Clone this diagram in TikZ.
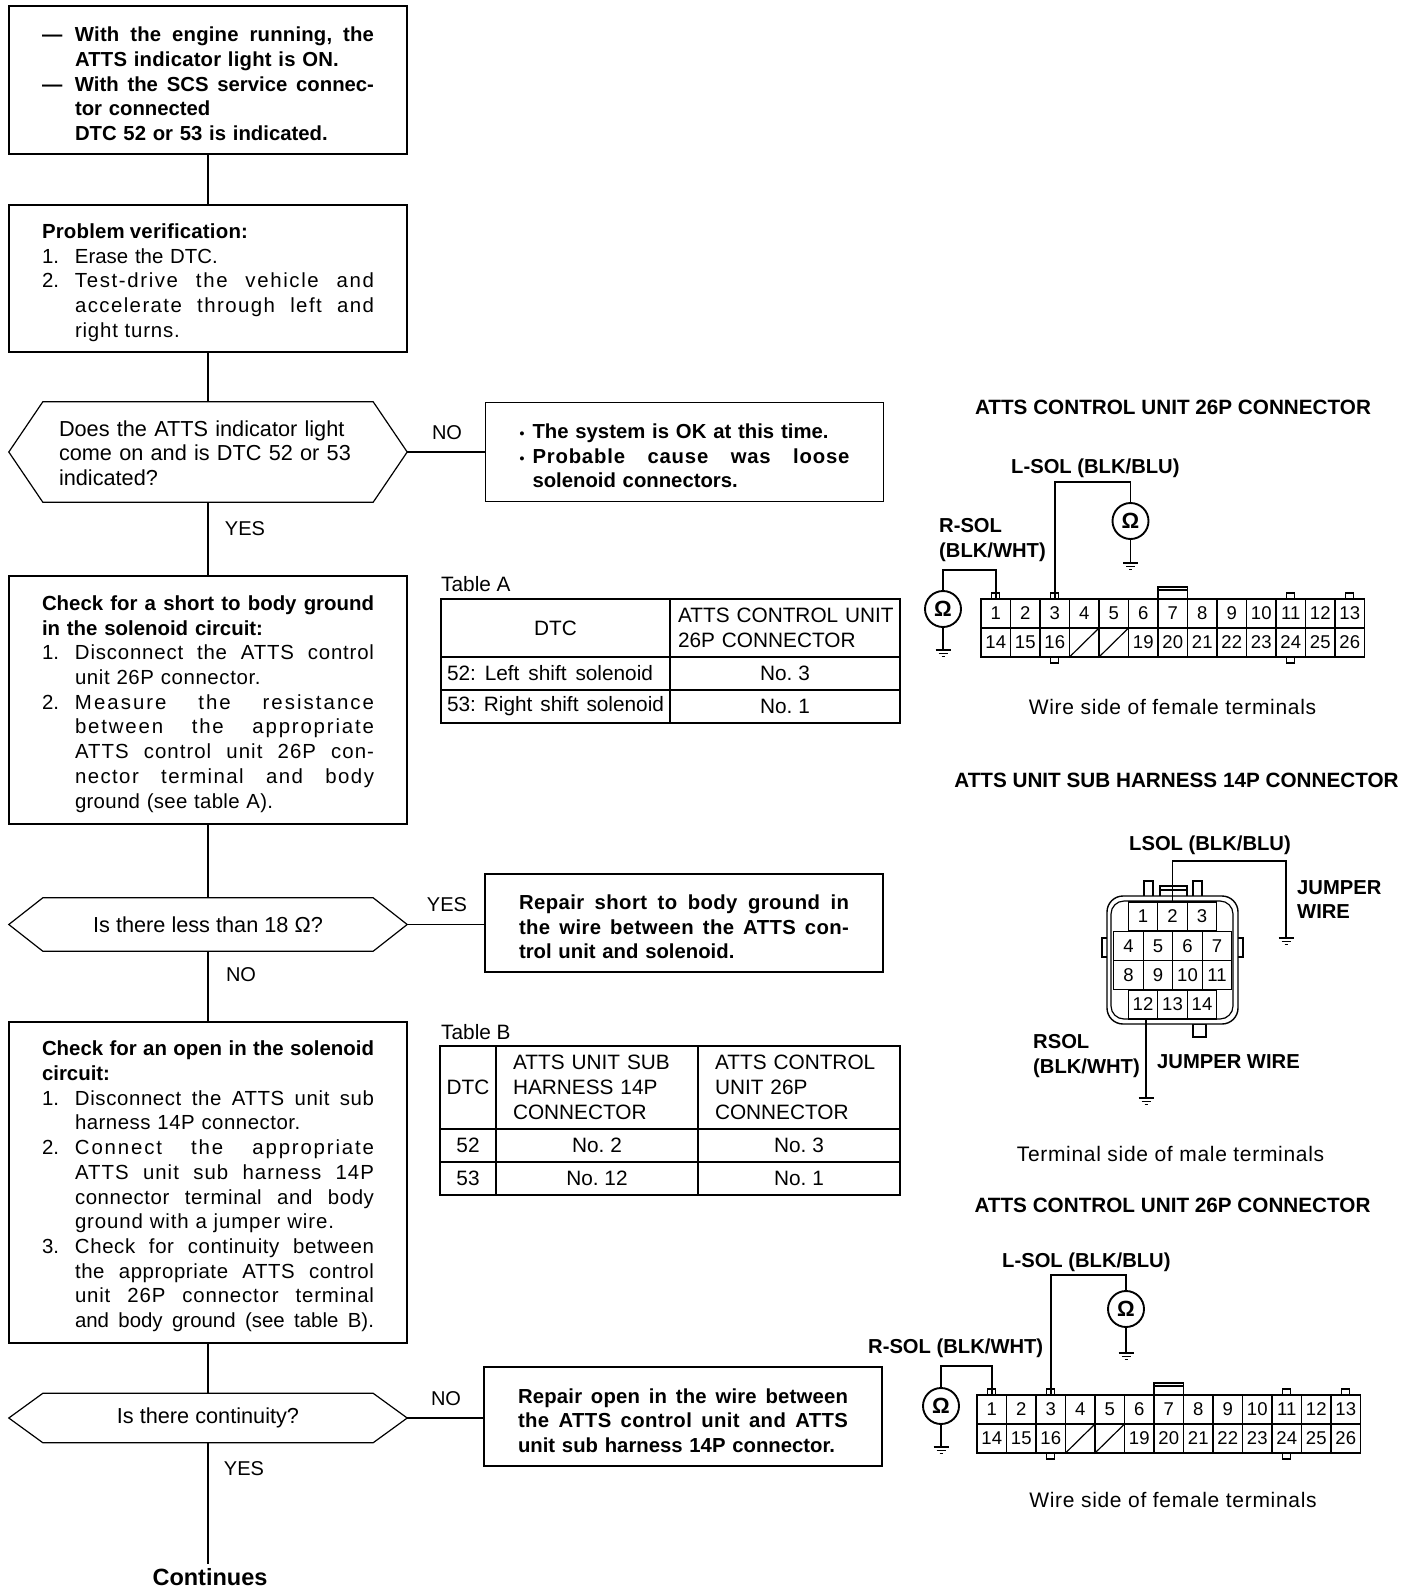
\documentclass[tikz,border=0pt]{standalone}
\usepackage{fontspec}
\setmainfont{Liberation Sans}
\usetikzlibrary{positioning}

% stretched line: [letter space], width, text
\newcommand{\strline}[3][0]{\makebox[#2][s]{\addfontfeature{LetterSpace=#1}\spaceskip=0pt\xspaceskip=0pt #3}}
\newcommand{\lsp}[2]{{\addfontfeature{LetterSpace=#1}#2}}
\newcommand{\numl}[3][0]{\makebox[33pt][l]{#2}\lsp{#1}{#3}}
\newcommand{\numls}[3][0]{\makebox[33pt][l]{#2}\strline[#1]{299pt}{#3}}
\newcommand{\hng}[2][0]{\hspace*{33pt}\lsp{#1}{#2}}
\newcommand{\hngs}[2][0]{\hspace*{33pt}\strline[#1]{299pt}{#2}}
\newcommand{\hexoutline}[1]{\draw[flowline] (#1.west) -- ([xshift=34pt]#1.north west) -- ([xshift=-34pt]#1.north east) -- (#1.east) -- ([xshift=-34pt]#1.south east) -- ([xshift=34pt]#1.south west) -- cycle;}

% 26P connector: prefix, left x, top y
\newcommand{\conntwentysix}[3]{%
  \foreach \n in {1,3,11,13} {
    \draw[pinline, fill=white] ({#2+(\n-0.5)*29.5-4},#3) rectangle ({#2+(\n-0.5)*29.5+4},{#3-6});
  }
  \foreach \n in {3,11} {
    \draw[pinline, fill=white] ({#2+(\n-0.5)*29.5-4},{#3+58}) rectangle ({#2+(\n-0.5)*29.5+4},{#3+64});
  }
  \draw[pinline] ({#2+6*29.5},#3) rectangle ({#2+7*29.5},{#3-12});
  \draw[pinline] ({#2+6*29.5},{#3-9}) -- ({#2+7*29.5},{#3-9});
  \foreach \n in {1,...,13} {
    \node[pincell] (#1\n) at ({#2+(\n-0.5)*29.5},{#3+14.5}) {\n};
  }
  \foreach \n/\lab in {14/14,15/15,16/16,17/,18/,19/19,20/20,21/21,22/22,23/23,24/24,25/25,26/26} {
    \node[pincell] (#1\n) at ({#2+(\n-13.5)*29.5},{#3+43.5}) {\lab};
  }
  \draw[pinline] (#117.south west) -- (#117.north east);
  \draw[pinline] (#118.south west) -- (#118.north east);
  \draw[line width=1.7pt] (#2,#3) rectangle ({#2+13*29.5},{#3+58});
}

\tikzset{
  textdown/.style={execute at begin node={\rule{0pt}{#1}}},
  flowbox/.style={draw, line width=1.3pt, minimum width=398pt, text width=332pt, inner xsep=0pt, inner ysep=0pt, align=left, textdown=22.7pt, font=\fontsize{20.4}{24.7}\selectfont},
  boldbox/.style={flowbox, font=\fontsize{20.3}{24.7}\selectfont\bfseries},
  notebox/.style={boldbox, text width=330pt},
  decision/.style={minimum width=398pt, inner sep=0pt, align=left, font=\fontsize{21.7}{24.7}\selectfont},
  flowline/.style={line width=1.2pt},
  answer/.style={font=\fontsize{20}{24}\selectfont},
  tcell/.style={draw, line width=1.3pt, inner sep=0pt, font=\fontsize{20.8}{24.7}\selectfont},
  tleft/.style={tcell, align=left},
  tlabel/.style={anchor=west, inner sep=0pt, font=\fontsize{20.8}{24}\selectfont},
  contitle/.style={inner sep=0pt, font=\fontsize{20.7}{24}\selectfont\bfseries},
  wirelabel/.style={inner sep=0pt, align=left, font=\fontsize{20.2}{24.5}\selectfont\bfseries},
  caption/.style={inner sep=0pt, font=\fontsize{21}{24}\selectfont\addfontfeature{LetterSpace=3.3}},
  pinline/.style={line width=1.2pt},
  pincell/.style={draw, line width=1.2pt, minimum width=29.5pt, minimum height=29pt, inner sep=0pt, font=\fontsize{18.5}{20}\selectfont},
  meter/.style={circle, draw, line width=1.9pt, minimum size=36pt, inner sep=0pt, font=\fontsize{22}{22}\selectfont\bfseries},
  wire/.style={line width=1.5pt},
  gnd/.pic={
    \draw[line width=1.3pt] (-7.5,0) -- (7.5,0);
    \draw[line width=1.3pt] (-4.5,3.5) -- (4.5,3.5);
    \draw[line width=1.3pt] (-1.5,6.5) -- (1.5,6.5);
  }
}

\begin{document}
\frenchspacing
\begin{tikzpicture}[x=1pt,y=-1pt]
\useasboundingbox (0,0) rectangle (1408,1592);

% Flow column
\node[boldbox, textdown=18.7pt, minimum height=148pt] (start) at (208,80) {\makebox[33pt][l]{---}\strline[1]{299pt}{With the engine running, the}\\
  \hng[1]{ATTS indicator light is ON.}\\
  \makebox[33pt][l]{---}\strline{299pt}{With the SCS service connec-}\\
  \hng{tor connected}\\
  \hng{DTC 52 or 53 is indicated.}};
\node[flowbox, minimum height=147pt] (verify) at (208,278.5) {\textbf{\strline[1]{206pt}{Problem verification:}}\\
  \numl{1.}{Erase the DTC.}\\
  \numls[8]{2.}{Test-drive the vehicle and}\\
  \hngs[7]{accelerate through left and}\\
  \hng[4]{right turns.}};
\node[decision, minimum height=100pt, text width=298pt, textdown=17.7pt] (lighton) at (208,452) {Does the ATTS indicator light\\come on and is DTC 52 or 53\\indicated?};
\node[notebox, textdown=19.7pt, minimum height=99pt] (okbox) at (684.5,452) {\makebox[13pt][l]{\fontsize{14}{14}\selectfont •}\strline{296pt}{The system is OK at this time.}\\
  \makebox[13pt][l]{\fontsize{14}{14}\selectfont •}\strline[4]{317pt}{Probable cause was loose}\\
  \hspace*{13pt}solenoid connectors.};
\node[flowbox, minimum height=248pt] (shortchk) at (208,700) {\textbf{\strline{332pt}{Check for a short to body ground}}\\
  \textbf{in the solenoid circuit:}\\
  \numls[4]{1.}{Disconnect the ATTS control}\\
  \hng[3]{unit 26P connector.}\\
  \numls[10]{2.}{Measure the resistance}\\
  \hngs[9]{between the appropriate}\\
  \hngs[5]{ATTS control unit 26P con-}\\
  \hngs[7]{nector terminal and body}\\
  \hng[1.5]{ground (see table A).}};
\node[decision, minimum height=53pt, align=center] (lessthan) at (208,924.5) {Is there less than 18 Ω?};
\node[notebox, textdown=20.7pt, minimum height=98pt] (shortbox) at (684,923) {\strline[2]{330pt}{Repair short to body ground in}\\
  \strline[2]{330pt}{the wire between the ATTS con-}\\
  trol unit and solenoid.};
\node[flowbox, minimum height=321pt] (openchk) at (208,1182.5) {\textbf{\strline{332pt}{Check for an open in the solenoid}}\\
  \textbf{circuit:}\\
  \numls[3]{1.}{Disconnect the ATTS unit sub}\\
  \hng[2.5]{harness 14P connector.}\\
  \numls[9]{2.}{Connect the appropriate}\\
  \hngs[5]{ATTS unit sub harness 14P}\\
  \hngs[3]{connector terminal and body}\\
  \hng[4.4]{ground with a jumper wire.}\\
  \numls[3]{3.}{Check for continuity between}\\
  \hngs[3]{the appropriate ATTS control}\\
  \hngs[4]{unit 26P connector terminal}\\
  \hngs{and body ground (see table B).}};
\node[decision, minimum height=49pt, align=center] (contin) at (208,1418) {Is there continuity?};
\node[notebox, minimum height=99pt] (openbox) at (683,1416.5) {\strline[1]{330pt}{Repair open in the wire between}\\
  \strline[2]{330pt}{the ATTS control unit and ATTS}\\
  unit sub harness 14P connector.};
\node[inner sep=0pt, font=\fontsize{23.5}{24}\selectfont\bfseries] (cont) at (210,1577) {Continues};
\coordinate (contend) at (208,1564);
\hexoutline{lighton}
\hexoutline{lessthan}
\hexoutline{contin}

\draw[flowline] (start) -- (verify);
\draw[flowline] (verify) -- (lighton);
\draw[flowline] (lighton) -- (shortchk);
\draw[flowline] (shortchk) -- (lessthan);
\draw[flowline] (lessthan) -- (openchk);
\draw[flowline] (openchk) -- (contin);
\draw[flowline] (contin) -- (contend);
\draw[flowline] (lighton.east) -- (lighton.east -| okbox.west);
\draw[flowline] (lessthan.east) -- (lessthan.east -| shortbox.west);
\draw[flowline] (contin.east) -- (contin.east -| openbox.west);

% Answers
\node[answer] (ansno) at (447,433) {NO};
\node[answer] (ansyes) at (245,529) {YES};
\node[answer] (ansyesb) at (447,905) {YES};
\node[answer] (ansnob) at (241,975) {NO};
\node[answer] (ansnoc) at (446,1399) {NO};
\node[answer] (ansyesc) at (244,1469) {YES};

% Table A
\node[tlabel] (tablea) at (441,584) {Table A};
\node[tcell, minimum width=229pt, minimum height=58pt] (adtc) at (555.5,628) {DTC};
\node[tleft, minimum width=230pt, minimum height=58pt, text width=214pt, inner xsep=8pt] (aconn) at (785,628) {\mbox{ATTS CONTROL UNIT}\\26P CONNECTOR};
\node[tleft, minimum width=229pt, minimum height=33pt, text width=217pt, inner xsep=6pt] (aleft) at (555.5,673.5) {\strline{206pt}{52: Left shift solenoid}};
\node[tcell, minimum width=230pt, minimum height=33pt] (anoa) at (785,673.5) {No. 3};
\node[tleft, minimum width=229pt, minimum height=33pt, text width=217pt, inner xsep=6pt] (aright) at (555.5,706.5) {\strline{217pt}{53: Right shift solenoid}};
\node[tcell, minimum width=230pt, minimum height=33pt] (anob) at (785,706.5) {No. 1};

% Table B
\node[tlabel] (tableb) at (441,1032) {Table B};
\node[tcell, minimum width=56pt, minimum height=83pt] (bdtc) at (468,1087.5) {DTC};
\node[tleft, minimum width=202pt, minimum height=83pt, text width=168pt, inner xsep=17pt] (bsub) at (597,1087.5) {ATTS UNIT SUB\\HARNESS 14P\\CONNECTOR};
\node[tleft, minimum width=202pt, minimum height=83pt, text width=168pt, inner xsep=17pt] (bctl) at (799,1087.5) {ATTS CONTROL\\UNIT 26P\\CONNECTOR};
\foreach \r/\yy/\dtc/\nsub/\nctl in {a/1145.5/52/No. 2/No. 3, b/1178.5/53/No. 12/No. 1} {
  \node[tcell, minimum width=56pt, minimum height=33pt] (bdtc\r) at (468,\yy) {\dtc};
  \node[tcell, minimum width=202pt, minimum height=33pt] (bsub\r) at (597,\yy) {\nsub};
  \node[tcell, minimum width=202pt, minimum height=33pt] (bctl\r) at (799,\yy) {\nctl};
}

% Upper 26P connector
\node[contitle] (titleup) at (1173,407) {ATTS CONTROL UNIT 26P CONNECTOR};
\conntwentysix{u}{981}{599}
\node[wirelabel, anchor=west] (lsolup) at (1011,468) {L-SOL (BLK/BLU)};
\node[wirelabel, anchor=west] (rsolup) at (939,540) {R-SOL\\(BLK/WHT)};
\node[meter] (meterul) at (1130.5,521) {Ω};
\node[meter] (meterur) at (943,609) {Ω};
\coordinate (ultop) at (1130.5,482);
\coordinate (urtop) at (997,570);
\coordinate (gul) at (1130.5,563);
\coordinate (gur) at (943,650);
\draw[wire] (u3.north) |- (ultop) -- (meterul.north);
\draw[wire] (u1.north) |- (urtop -| meterur) -- (meterur.north);
\draw[wire] (meterul.south) -- (gul);
\draw[wire] (meterur.south) -- (gur);
\pic at (gul) {gnd};
\pic at (gur) {gnd};
\node[caption] (capup) at (1172.5,707) {Wire side of female terminals};

% 14P connector
\node[contitle] (titlemid) at (1176.5,780) {ATTS UNIT SUB HARNESS 14P CONNECTOR};
\draw[pinline, fill=white] (1102,938) rectangle (1110,957);
\draw[pinline, fill=white] (1235,938) rectangle (1243,957);
\draw[pinline] (1144,897) rectangle (1153,881);
\draw[pinline] (1193,897) rectangle (1202,881);
\draw[pinline] (1160,897) rectangle (1187,886);
\draw[pinline] (1160,890) -- (1187,890);
\draw[pinline] (1193,1024) rectangle (1206,1037);
\draw[line width=1.4pt, rounded corners=16pt, fill=white] (1107,896) rectangle (1238,1024);
\draw[pinline, rounded corners=13pt] (1111,901) rectangle (1233,1019);
\foreach \n/\cx/\cy in {1/1143/916.5, 2/1172.5/916.5, 3/1202/916.5,
  4/1128.5/946, 5/1158/946, 6/1187.5/946, 7/1217/946,
  8/1128.5/975, 9/1158/975, 10/1187.5/975, 11/1217/975,
  12/1143/1004.5, 13/1172.5/1004.5, 14/1202/1004.5} {
  \node[pincell] (h\n) at (\cx,\cy) {\n};
}
\node[wirelabel, anchor=west] (lsolmid) at (1129,845) {LSOL (BLK/BLU)};
\node[wirelabel, anchor=west] (jumpa) at (1297,899.5) {JUMPER\\WIRE};
\node[wirelabel, anchor=west] (rsolmid) at (1033,1056) {RSOL\\(BLK/WHT)};
\node[wirelabel, anchor=west] (jumpb) at (1157,1062) {JUMPER WIRE};
\coordinate (hltop) at (1286,861);
\coordinate (ghl) at (1286,938);
\coordinate (ghr) at (1146,1098);
\draw[wire] (h2.north) |- (hltop) -- (ghl);
\draw[wire] (h12.south -| ghr) -- (ghr);
\pic at (ghl) {gnd};
\pic at (ghr) {gnd};
\node[caption] (capmid) at (1170.5,1154) {Terminal side of male terminals};

% Lower 26P connector
\node[contitle] (titlelow) at (1172.5,1205) {ATTS CONTROL UNIT 26P CONNECTOR};
\conntwentysix{l}{977}{1395}
\node[wirelabel, anchor=west] (lsollow) at (1002,1262) {L-SOL (BLK/BLU)};
\node[wirelabel, anchor=west] (rsollow) at (868,1348) {R-SOL (BLK/WHT)};
\node[meter] (meterll) at (1126,1309) {Ω};
\node[meter] (meterlr) at (941,1406) {Ω};
\coordinate (lltop) at (1126,1275);
\coordinate (lrtop) at (994,1366);
\coordinate (gll) at (1126,1353);
\coordinate (glr) at (941,1447);
\draw[wire] (l3.north) |- (lltop) -- (meterll.north);
\draw[wire] (l1.north) |- (lrtop -| meterlr) -- (meterlr.north);
\draw[wire] (meterll.south) -- (gll);
\draw[wire] (meterlr.south) -- (glr);
\pic at (gll) {gnd};
\pic at (glr) {gnd};
\node[caption] (caplow) at (1173,1500) {Wire side of female terminals};
\end{tikzpicture}
\end{document}
